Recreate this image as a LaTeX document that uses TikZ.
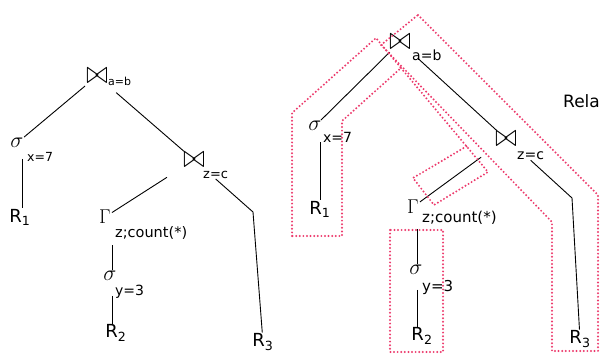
\RequirePackage{fix-cm}
\documentclass[tikz,border=0pt]{standalone}
\usepackage{fontspec}
\setmainfont{DejaVu Sans}
\usepackage{graphicx}
\usetikzlibrary{positioning}
\definecolor{pipered}{RGB}{236,58,108}
\newcommand{\opjoin}{\scalebox{1.1}[1.35]{$\bowtie$}}
\tikzset{
  op/.style={inner sep=1pt, font=\fontsize{#1}{#1}\selectfont},
  op/.default=20,
  rel/.style={inner sep=1pt, font=\fontsize{18}{18}\selectfont},
  sub/.style={inner sep=0pt, anchor=west, font=\fontsize{#1}{#1}\selectfont},
  treeline/.style={line width=0.9pt},
  pipeline/.style={draw=pipered, line width=2.2pt, dash pattern=on 0pt off 3.6pt, line cap=round}
}

\begin{document}
\begin{tikzpicture}[x=1pt,y=-1pt,on grid]
  \useasboundingbox (0,0) rectangle (602,356);
  % left plan
  \node[op=24] (lj1) at (97,76) {\opjoin};
  \node[op=22, below left=67pt and 80pt of lj1] (ls1) {$\sigma$};
  \node[rel, below right=74pt and 3pt of ls1] (lr1) {R\textsubscript{1}};
  \node[op=24, below right=84pt and 97pt of lj1] (lj2) {\opjoin};
  \node[op, below left=57pt and 89pt of lj2] (lg) {$\Gamma$};
  \node[op=22, below right=59pt and 5pt of lg] (ls2) {$\sigma$};
  \node[rel, below right=57pt and 6pt of ls2] (lr2) {R\textsubscript{2}};
  \node[rel, below right=182pt and 69pt of lj2] (lr3) {R\textsubscript{3}};
  \coordinate[below right=52pt and 59pt of lj2] (lk);

  \node[sub=11, xshift=11pt, yshift=-5pt] (lj1s) at (lj1) {a=b};
  \node[sub=12.5, xshift=10pt, yshift=-14pt] (ls1s) at (ls1) {x=7};
  \node[sub=13, xshift=9pt, yshift=-15pt] (lj2s) at (lj2) {z=c};
  \node[sub=14.5, xshift=10pt, yshift=-16pt] (lgs) at (lg) {z;count(*)};
  \node[sub=14, xshift=5pt, yshift=-16pt] (ls2s) at (ls2) {y=3};

  \draw[treeline, shorten <=2pt] (lj1) -- (ls1);
  \draw[treeline, shorten <=10pt] ([xshift=5pt]ls1.south) -- ([xshift=2pt]lr1.north);
  \draw[treeline, shorten <=12pt] (lj1) -- (lj2);
  \draw[treeline, shorten <=18pt] (lj2) -- (lg);
  \draw[treeline, shorten <=20pt] ([xshift=7pt]lg.south) -- ([xshift=2pt]ls2.north);
  \draw[treeline, shorten <=14pt] ([xshift=2pt]ls2.south) -- ([xshift=-4pt]lr2.north);
  \draw[treeline] (lj2s.south) -- (lk) -- (lr3);

  % right plan
  \node[op=24] (rj1) at (400,42) {\opjoin};
  \node[op=22, below left=84pt and 85pt of rj1] (rs1) {$\sigma$};
  \node[rel, below right=83pt and 5pt of rs1] (rr1) {R\textsubscript{1}};
  \node[op=24, below right=97pt and 106pt of rj1] (rj2) {\opjoin};
  \node[op, below left=68pt and 93pt of rj2] (rg) {$\Gamma$};
  \node[op=22, below right=63pt and 3pt of rg] (rs2) {$\sigma$};
  \node[rel, below right=66pt and 6pt of rs2] (rr2) {R\textsubscript{2}};
  \node[rel, below right=200pt and 74pt of rj2] (rr3) {R\textsubscript{3}};
  \coordinate[below right=59pt and 66pt of rj2] (rk);

  \node[sub=14, xshift=12pt, yshift=-13pt] (rj1s) at (rj1) {a=b};
  \node[sub=14, xshift=8pt, yshift=-11pt] (rs1s) at (rs1) {x=7};
  \node[sub=14, xshift=11pt, yshift=-17pt] (rj2s) at (rj2) {z=c};
  \node[sub=15, xshift=9pt, yshift=-11pt] (rgs) at (rg) {z;count(*)};
  \node[sub=15, xshift=6pt, yshift=-17pt] (rs2s) at (rs2) {y=3};

  \draw[treeline, shorten <=2pt] (rj1) -- (rs1);
  \draw[treeline, shorten <=10pt] ([xshift=5pt]rs1.south) -- ([xshift=0pt]rr1.north);
  \draw[treeline, shorten <=12pt] (rj1) -- (rj2);
  \draw[treeline, shorten <=16pt] (rj2) -- (rg);
  \draw[treeline, shorten <=14pt] ([xshift=4pt]rg.south) -- ([xshift=1pt]rs2.north);
  \draw[treeline, shorten <=14pt] ([xshift=1pt]rs2.south) -- ([xshift=-5pt]rr2.north);
  \draw[treeline] (rj2s.south) -- (rk) -- (rr3);

  \node[rel, anchor=west, font=\fontsize{17}{17}\selectfont] (rela) at (562,101) {Rela};

  % pipelines
  \draw[pipeline] (292,236) -- (292,113) -- (376,38) -- (401,68) -- (342,121) -- (342,236) -- cycle;
  \draw[pipeline] (418,15) -- (598,195) -- (598,351) -- (552,351) -- (552,222) -- (381,45) -- cycle;
  \draw[pipeline] (401,68) -- (488,172) -- (434,205) -- (413,178) -- (467,146);
  \draw[pipeline] (390,230) rectangle (443,352);
\end{tikzpicture}
\end{document}
